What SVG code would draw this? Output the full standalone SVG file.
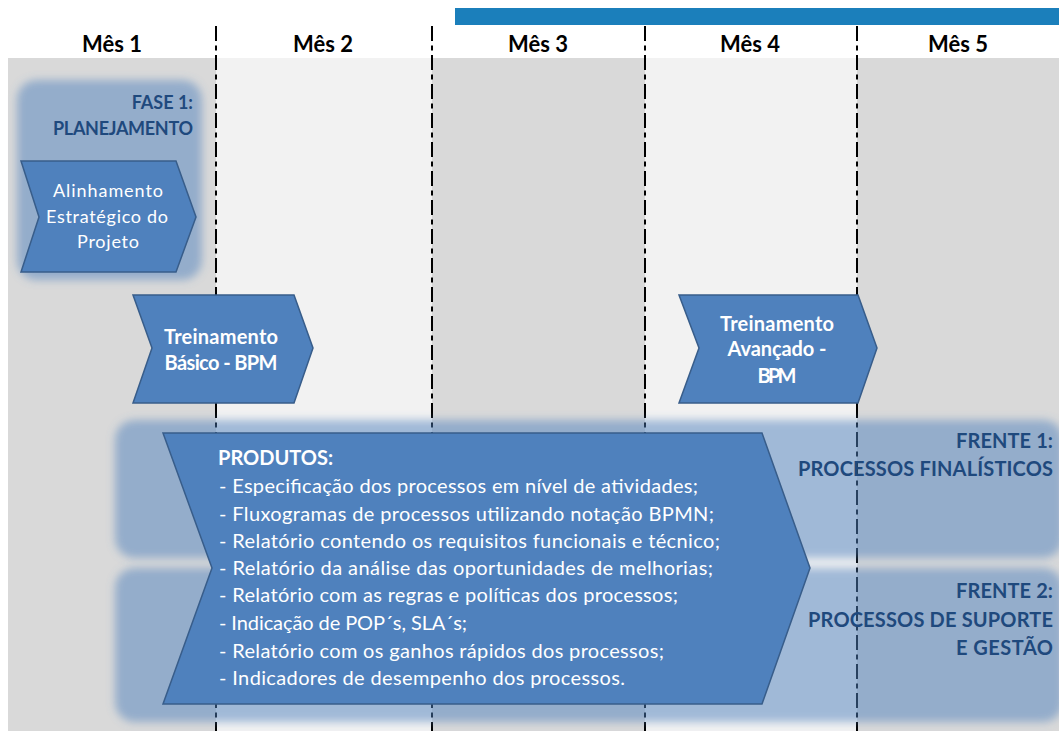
<svg xmlns="http://www.w3.org/2000/svg" width="1059" height="731" viewBox="0 0 1059 731">
<defs>
<filter id="soft" x="-5%" y="-10%" width="110%" height="120%">
<feGaussianBlur stdDeviation="4"/>
</filter>
<style>
.hdr{font-family:Lato,"Liberation Sans",sans-serif;font-weight:bold;font-size:22px;fill:#000;text-anchor:middle}
.grid{stroke:#000;stroke-width:2;stroke-dasharray:15 4.5 5 4.5;fill:none}
.soft{fill:#4F81BD;fill-opacity:0.5;filter:url(#soft)}
.chev{fill:#4F81BD;stroke:#385D8A;stroke-width:1.5}
.lbl{font-family:Lato,"Liberation Sans",sans-serif;font-weight:bold;font-size:18px;fill:#1F497D;text-anchor:end}
.lbl2{font-family:Lato,"Liberation Sans",sans-serif;font-weight:bold;font-size:20px;fill:#1F497D;text-anchor:end}
.ct{font-family:Lato,"Liberation Sans",sans-serif;font-size:18px;fill:#fff;text-anchor:middle}
.cb{font-family:Lato,"Liberation Sans",sans-serif;font-weight:bold;font-size:20px;fill:#fff;text-anchor:middle}
.pt{font-family:Lato,"Liberation Sans",sans-serif;font-size:20px;fill:#fff}
</style>
</defs>
<rect width="1059" height="731" fill="#fff"/>
<g id="columns">
<rect x="8" y="58" width="208" height="673" fill="#D9D9D9"/>
<rect x="216" y="58" width="216" height="673" fill="#F2F2F2"/>
<rect x="432" y="58" width="213" height="673" fill="#D9D9D9"/>
<rect x="645" y="58" width="212" height="673" fill="#F2F2F2"/>
<rect x="857" y="58" width="202" height="673" fill="#D9D9D9"/>
</g>
<rect id="topbar" x="455" y="8" width="604" height="17" fill="#1B7FBB"/>
<g id="headers">
<text class="hdr" x="112" y="52">Mês 1</text>
<text class="hdr" x="323" y="52">Mês 2</text>
<text class="hdr" x="538" y="52">Mês 3</text>
<text class="hdr" x="750" y="52">Mês 4</text>
<text class="hdr" x="958" y="52">Mês 5</text>
</g>
<g id="grid">
<line class="grid" x1="216" y1="26" x2="216" y2="731"/>
<line class="grid" x1="432" y1="26" x2="432" y2="731"/>
<line class="grid" x1="645" y1="26" x2="645" y2="731"/>
<line class="grid" x1="857" y1="26" x2="857" y2="731"/>
</g>
<g id="fase1">
<rect class="soft" x="17" y="80" width="185" height="200" rx="20"/>
<text class="lbl" x="193" y="109">FASE 1:</text>
<text class="lbl" x="193" y="135" textLength="140">PLANEJAMENTO</text>
</g>
<g id="frente1">
<rect class="soft" x="115" y="420" width="948" height="138" rx="20"/>
<text class="lbl2" x="1053" y="448" textLength="97">FRENTE 1:</text>
<text class="lbl2" x="1053" y="476" textLength="255">PROCESSOS FINALÍSTICOS</text>
</g>
<g id="frente2">
<rect class="soft" x="115" y="568" width="948" height="154" rx="20"/>
<text class="lbl2" x="1053" y="598" textLength="97">FRENTE 2:</text>
<text class="lbl2" x="1053" y="627" textLength="245">PROCESSOS DE SUPORTE</text>
<text class="lbl2" x="1053" y="655" textLength="97">E GESTÃO</text>
</g>
<g id="alinhamento">
<polygon class="chev" points="21,161 176,161 196,217 176,272 21,272 39,217"/>
<text class="ct" x="108" y="197" textLength="110">Alinhamento</text>
<text class="ct" x="107" y="223" textLength="122">Estratégico do</text>
<text class="ct" x="108" y="248" textLength="62">Projeto</text>
</g>
<g id="treinamento-basico">
<polygon class="chev" points="133,295 294,295 313,348 294,403 133,403 152,348"/>
<text class="cb" x="221" y="344" textLength="114">Treinamento</text>
<text class="cb" x="221" y="370" textLength="113">Básico  - BPM</text>
</g>
<g id="treinamento-avancado">
<polygon class="chev" points="679,295 858,295 877,348 858,403 679,403 699,348"/>
<text class="cb" x="777" y="331" textLength="114">Treinamento</text>
<text class="cb" x="777" y="356" textLength="99">Avançado  -</text>
<text class="cb" x="777" y="383" textLength="39">BPM</text>
</g>
<g id="produtos">
<polygon class="chev" points="163,433 762,433 810,568 762,704 163,704 212,568"/>
<text class="pt" x="218" y="465" font-weight="bold" font-size="15">PRODUTOS:</text>
<text class="pt" x="219" y="493" textLength="479">- Especificação dos processos em nível de atividades;</text>
<text class="pt" x="219" y="521" textLength="495">- Fluxogramas de processos utilizando notação BPMN;</text>
<text class="pt" x="219" y="548" textLength="501">- Relatório contendo os requisitos funcionais e técnico;</text>
<text class="pt" x="219" y="575" textLength="494">- Relatório da análise das oportunidades de melhorias;</text>
<text class="pt" x="219" y="602" textLength="459">- Relatório com as regras e políticas dos processos;</text>
<text class="pt" x="219" y="630" textLength="248">- Indicação de POP´s, SLA´s;</text>
<text class="pt" x="219" y="658" textLength="445">- Relatório com os ganhos rápidos dos processos;</text>
<text class="pt" x="219" y="685" textLength="406">- Indicadores de desempenho dos processos.</text>
</g>
</svg>
